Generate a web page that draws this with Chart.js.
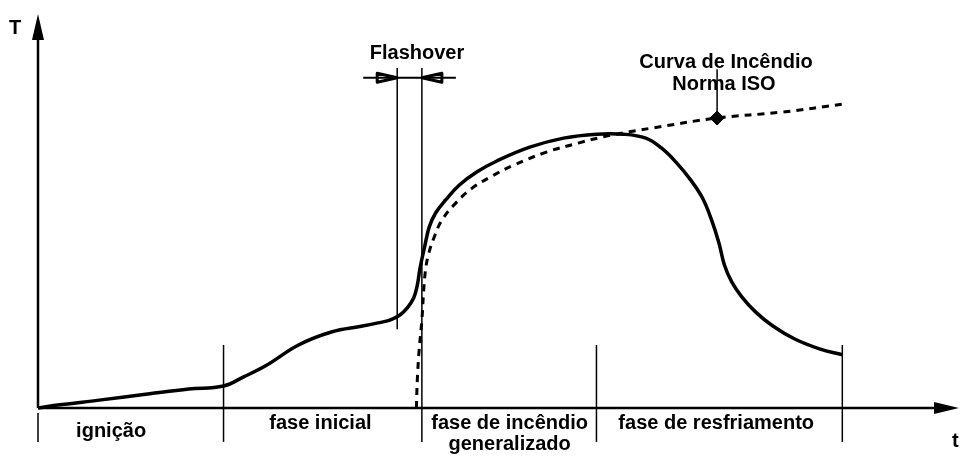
<!DOCTYPE html>
<html>
<head>
<meta charset="utf-8">
<script src="https://cdn.jsdelivr.net/npm/chart.js@4.4.0/dist/chart.umd.min.js"></script>
<style>
  html, body { margin: 0; padding: 0; background: #fff; }
  canvas { display: block; }
</style>
</head>
<body>
<canvas id="fire" width="960" height="456"></canvas>
<script>
// real fire curve (time, temperature) in arbitrary units
const fireTime = [0, 2.4, 6.7, 12.2, 16.5, 20.3, 22.5, 24.9, 28.5, 32.1, 35.5, 37.2, 38.5, 39.6, 40.4, 41.1, 41.5, 41.8, 42.3, 42.8, 43.5, 44.6, 46.1, 48.0, 50.2, 53.8, 57.5, 61.1, 64.0, 66.5, 68.2, 69.8, 71.4, 72.7, 73.7, 74.5, 75.1, 75.9, 77.0, 78.5, 80.4, 82.8, 85.5, 88.0];
const fireTemp = [0, 0.8, 2.0, 3.6, 4.8, 5.6, 7.9, 10.7, 16.0, 19.3, 20.8, 21.6, 22.3, 23.6, 25.4, 27.9, 31.2, 35.5, 40.9, 45.9, 49.5, 52.8, 56.6, 59.9, 62.7, 66.2, 68.5, 69.5, 69.5, 68.5, 66.0, 62.4, 57.9, 53.3, 47.7, 41.9, 36.3, 32.0, 28.2, 24.4, 20.8, 17.5, 15.0, 13.5];

// ISO standard curve
const isoTime = [41.4, 41.5, 41.7, 42.0, 42.2, 42.4, 42.7, 43.3, 44.2, 45.7, 47.5, 49.7, 52.1, 55.7, 59.2, 61.8, 64.7, 67.3, 74.3, 81.4, 88.3];
const isoTemp = [0, 7.1, 14.7, 22.3, 29.9, 35.0, 38.8, 43.1, 47.7, 52.0, 55.8, 58.9, 61.7, 65.0, 67.3, 68.8, 70.1, 71.1, 73.6, 75.1, 77.2];

const isoMarker = [74.3, 73.6];

// phase boundaries on the time axis
const phaseBounds = [0, 20.3, 42.0, 61.1, 88.0];
const flashoverStart = 39.3;

const phaseLabels = [
  { lines: ["ignição"], x: 8, y: -6.0 },
  { lines: ["fase inicial"], x: 30.9, y: -4.0 },
  { lines: ["fase de incêndio", "generalizado"], x: 51.6, y: -4.0 },
  { lines: ["fase de resfriamento"], x: 74.2, y: -4.0 }
];

const FONT = 'bold 20px "Liberation Sans", Arial, sans-serif';

const toPoints = (xs, ys) => xs.map((x, i) => ({ x, y: ys[i] }));

const diagramPlugin = {
  id: "diagram",
  afterDatasetsDraw(chart) {
    const ctx = chart.ctx;
    const xs = chart.scales.x, ys = chart.scales.y;
    const px = v => xs.getPixelForValue(v);
    const py = v => ys.getPixelForValue(v);
    const x0 = px(0), y0 = py(0);

    ctx.save();
    ctx.strokeStyle = "#000";
    ctx.fillStyle = "#000";
    ctx.lineCap = "butt";

    // axes with arrows
    ctx.lineWidth = 2.5;
    ctx.beginPath();
    ctx.moveTo(x0, y0);
    ctx.lineTo(x0, 38);
    ctx.moveTo(x0, y0);
    ctx.lineTo(936, y0);
    ctx.stroke();
    ctx.beginPath();
    ctx.moveTo(x0, 14);
    ctx.lineTo(x0 - 6, 40);
    ctx.lineTo(x0 + 6, 40);
    ctx.closePath();
    ctx.fill();
    ctx.beginPath();
    ctx.moveTo(959, y0);
    ctx.lineTo(934, y0 - 6);
    ctx.lineTo(934, y0 + 6);
    ctx.closePath();
    ctx.fill();

    // phase divider lines
    ctx.lineWidth = 1.5;
    phaseBounds.forEach((b, i) => {
      const top = i === 0 ? py(-1.3) : py(16);
      ctx.beginPath();
      ctx.moveTo(px(b), top);
      ctx.lineTo(px(b), py(-8.6));
      ctx.stroke();
    });
    // flashover lines
    ctx.beginPath();
    ctx.moveTo(px(flashoverStart), py(86.3));
    ctx.lineTo(px(flashoverStart), py(20));
    ctx.moveTo(px(phaseBounds[2]), py(86.3));
    ctx.lineTo(px(phaseBounds[2]), py(16));
    ctx.stroke();

    // flashover arrows
    const ay = py(83.8);
    const fa = px(flashoverStart), fb = px(phaseBounds[2]);
    ctx.lineWidth = 2;
    ctx.beginPath();
    ctx.moveTo(fa - 34, ay);
    ctx.lineTo(fb + 34, ay);
    ctx.stroke();
    ctx.lineWidth = 3;
    ctx.lineJoin = "round";
    ctx.beginPath();
    ctx.moveTo(fa, ay);
    ctx.lineTo(fa - 20, ay - 4.5);
    ctx.lineTo(fa - 20, ay + 4.5);
    ctx.closePath();
    ctx.moveTo(fb, ay);
    ctx.lineTo(fb + 20, ay - 4.5);
    ctx.lineTo(fb + 20, ay + 4.5);
    ctx.closePath();
    ctx.stroke();

    // ISO pointer line
    ctx.lineWidth = 1.5;
    ctx.beginPath();
    ctx.moveTo(px(isoMarker[0]), py(86));
    ctx.lineTo(px(isoMarker[0]), py(isoMarker[1]));
    ctx.stroke();

    // texts
    ctx.font = FONT;
    ctx.textAlign = "center";
    ctx.textBaseline = "middle";
    phaseLabels.forEach(l => {
      l.lines.forEach((t, k) => ctx.fillText(t, px(l.x), py(l.y) + k * 21));
    });
    ctx.fillText("Flashover", 417, 53);
    ctx.fillText("Curva de Incêndio", 726, 62);
    ctx.fillText("Norma ISO", 724, 84);
    ctx.fillText("T", 15, 28);
    ctx.textAlign = "left";
    ctx.fillText("t", 952, 441);
    ctx.restore();
  }
};

new Chart(document.getElementById("fire"), {
  type: "line",
  data: {
    datasets: [
      {
        data: toPoints(fireTime, fireTemp),
        borderColor: "#000",
        borderWidth: 3.5,
        pointRadius: 0,
        tension: 0.4,
        clip: false
      },
      {
        data: toPoints(isoTime, isoTemp),
        borderColor: "#000",
        borderWidth: 3,
        borderDash: [7, 6],
        pointRadius: 0,
        tension: 0.4,
        clip: false
      },
      {
        data: [{ x: isoMarker[0], y: isoMarker[1] }],
        showLine: false,
        pointStyle: "rectRot",
        pointRadius: 7,
        backgroundColor: "#000",
        borderColor: "#000",
        clip: false
      }
    ]
  },
  options: {
    responsive: false,
    devicePixelRatio: 1,
    animation: false,
    layout: { padding: { left: 38, right: 2, top: 14, bottom: 48 } },
    scales: {
      x: { type: "linear", min: 0, max: 100, display: false },
      y: { type: "linear", min: 0, max: 100, display: false }
    },
    plugins: {
      legend: { display: false },
      tooltip: { enabled: false }
    }
  },
  plugins: [diagramPlugin]
});
</script>
</body>
</html>
